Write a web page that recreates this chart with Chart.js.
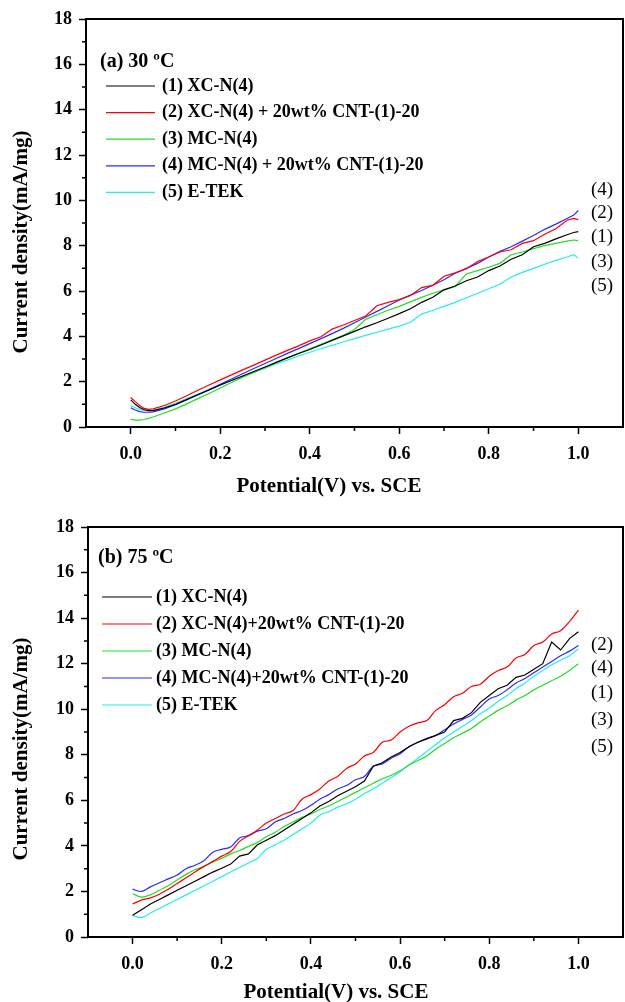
<!DOCTYPE html>
<html>
<head>
<meta charset="utf-8">
<script src="https://cdn.jsdelivr.net/npm/chart.js@4.4.0/dist/chart.umd.min.js"></script>
<style>
html, body { margin: 0; padding: 0; background: #fff; }
#wrap { position: relative; width: 625px; height: 1002px; }
canvas { position: absolute; left: 0; }
</style>
</head>
<body>
<div id="wrap">
  <canvas id="chartA" width="625" height="501" style="top:0"></canvas>
  <canvas id="chartB" width="625" height="501" style="top:501px"></canvas>
</div>
<script>
// (a) 30 C
const potA = [0,0.01,0.02,0.03,0.04,0.05,0.075,0.1,0.125,0.15,0.175,0.2,0.225,0.25,0.275,0.3,0.325,0.35,0.375,0.4,0.425,0.45,0.475,0.5,0.525,0.55,0.575,0.6,0.625,0.65,0.675,0.7,0.725,0.75,0.775,0.8,0.825,0.85,0.875,0.9,0.925,0.95,0.975,0.99,1.0];
const xcA = [1.20,1.00,0.86,0.76,0.72,0.72,0.84,1.00,1.21,1.42,1.63,1.85,2.05,2.25,2.45,2.65,2.85,3.05,3.24,3.42,3.62,3.82,4.02,4.22,4.42,4.60,4.80,5.00,5.22,5.50,5.72,6.05,6.22,6.45,6.62,6.90,7.10,7.40,7.60,7.95,8.10,8.30,8.48,8.58,8.62];
const xcCntA = [1.30,1.12,0.95,0.82,0.78,0.80,0.95,1.15,1.38,1.62,1.85,2.08,2.30,2.52,2.73,2.95,3.17,3.38,3.58,3.80,3.98,4.32,4.50,4.70,4.90,5.35,5.50,5.62,5.80,6.15,6.25,6.65,6.80,6.98,7.30,7.50,7.72,7.82,8.10,8.22,8.50,8.75,9.12,9.20,9.15];
const mcA = [0.35,0.30,0.30,0.33,0.38,0.44,0.62,0.80,1.02,1.25,1.48,1.72,1.96,2.20,2.41,2.62,2.84,3.05,3.25,3.45,3.65,3.85,4.05,4.30,4.75,4.95,5.15,5.32,5.52,5.72,5.90,6.05,6.20,6.75,6.90,7.05,7.22,7.60,7.72,7.87,8.00,8.10,8.20,8.25,8.22];
const mcCntA = [0.85,0.75,0.68,0.65,0.65,0.67,0.80,0.98,1.20,1.42,1.65,1.88,2.12,2.35,2.58,2.80,3.02,3.25,3.46,3.68,3.90,4.12,4.35,4.60,4.85,5.10,5.35,5.60,5.82,6.02,6.25,6.50,6.78,7.00,7.22,7.50,7.75,7.95,8.20,8.45,8.72,8.95,9.20,9.35,9.55];
const etekA = [0.95,0.85,0.78,0.74,0.72,0.74,0.88,1.05,1.25,1.45,1.65,1.85,2.05,2.23,2.42,2.60,2.78,2.95,3.13,3.30,3.45,3.60,3.75,3.90,4.04,4.18,4.32,4.45,4.62,4.98,5.15,5.32,5.50,5.70,5.90,6.10,6.30,6.62,6.82,7.00,7.18,7.35,7.50,7.60,7.45];
const namesA = ['(1) XC-N(4)', '(2) XC-N(4) + 20wt% CNT-(1)-20', '(3) MC-N(4)', '(4) MC-N(4) + 20wt% CNT-(1)-20', '(5) E-TEK'];
const sideA = ['(4)', '(2)', '(1)', '(3)', '(5)'];

// (b) 75 C
const potB = [0,0.02,0.04,0.06,0.08,0.1,0.12,0.14,0.16,0.18,0.2,0.22,0.24,0.26,0.28,0.3,0.32,0.34,0.36,0.38,0.4,0.42,0.44,0.46,0.48,0.5,0.52,0.54,0.56,0.58,0.6,0.62,0.64,0.66,0.68,0.7,0.72,0.74,0.76,0.78,0.8,0.82,0.84,0.86,0.88,0.9,0.92,0.94,0.96,0.98,1.0];
const xcB = [0.95,1.20,1.45,1.65,1.85,2.05,2.25,2.45,2.65,2.85,3.02,3.20,3.55,3.65,4.05,4.25,4.45,4.70,4.95,5.20,5.45,5.75,5.95,6.20,6.40,6.60,6.85,7.50,7.65,7.90,8.10,8.35,8.55,8.70,8.85,9.00,9.50,9.60,9.85,10.30,10.60,10.90,11.05,11.40,11.50,11.75,12.00,12.95,12.60,13.10,13.40];
const xcCntB = [1.45,1.62,1.72,1.88,2.10,2.35,2.60,2.85,3.10,3.32,3.55,3.75,4.20,4.45,4.70,5.00,5.20,5.40,5.55,6.05,6.25,6.50,6.85,7.05,7.40,7.60,7.95,8.10,8.55,8.65,9.00,9.25,9.40,9.50,9.95,10.20,10.55,10.70,11.00,11.10,11.45,11.70,11.85,12.25,12.40,12.80,12.95,13.30,13.45,13.85,14.35];
const mcB = [1.90,1.75,1.85,2.05,2.25,2.50,2.75,2.95,3.10,3.30,3.45,3.65,3.80,3.98,4.15,4.40,4.60,4.85,5.05,5.25,5.40,5.60,5.75,5.95,6.15,6.35,6.55,6.75,6.95,7.10,7.30,7.55,7.75,7.95,8.25,8.50,8.75,8.95,9.15,9.45,9.70,9.95,10.15,10.40,10.60,10.85,11.05,11.25,11.45,11.70,12.00];
const mcCntB = [2.10,2.00,2.20,2.38,2.55,2.72,3.00,3.15,3.35,3.72,3.85,3.95,4.35,4.45,4.65,4.75,5.05,5.20,5.40,5.55,5.78,6.05,6.25,6.50,6.65,6.90,7.05,7.50,7.60,7.85,8.05,8.35,8.55,8.72,8.85,9.10,9.35,9.55,9.75,10.10,10.45,10.60,10.85,11.15,11.35,11.60,11.85,12.10,12.35,12.55,12.80];
const etekB = [0.95,0.85,1.05,1.25,1.45,1.65,1.85,2.05,2.25,2.45,2.65,2.85,3.05,3.25,3.45,3.85,4.05,4.25,4.50,4.75,5.00,5.35,5.50,5.70,5.85,6.05,6.30,6.50,6.75,7.00,7.25,7.55,7.85,8.15,8.45,8.75,9.00,9.25,9.50,9.80,10.05,10.35,10.60,10.90,11.15,11.45,11.70,11.95,12.15,12.35,12.65];
const namesB = ['(1) XC-N(4)', '(2) XC-N(4)+20wt% CNT-(1)-20', '(3) MC-N(4)', '(4) MC-N(4)+20wt% CNT-(1)-20', '(5) E-TEK'];
const sideB = ['(2)', '(4)', '(1)', '(3)', '(5)'];

const FONT = '"Liberation Serif", "Times New Roman", serif';
const colors = ['#000000', '#ff0000', '#22dd22', '#2a2aff', '#22eeee'];

function makeDatasets(pot, series, names, tension) {
  return series.map((ys, i) => ({
    label: names[i],
    data: pot.map((x, j) => ({ x: x, y: ys[j] })),
    borderColor: colors[i],
    borderWidth: 1.2,
    pointRadius: 0,
    tension: i === 0 ? 0 : tension
  }));
}

const decor = {
  id: 'decor',
  afterDraw(chart, args, o) {
    const { ctx, chartArea: a, scales: { x, y } } = chart;
    ctx.save();
    ctx.strokeStyle = '#000';
    ctx.lineWidth = 2;
    ctx.strokeRect(a.left, a.top, a.right - a.left, a.bottom - a.top);
    // minor ticks
    ctx.lineWidth = 1.5;
    ctx.beginPath();
    for (let k = 1; k <= 9; k += 2) {
      const px = x.getPixelForValue(k / 10);
      ctx.moveTo(px, a.bottom); ctx.lineTo(px, a.bottom + 4);
    }
    for (let v = 1; v <= 17; v += 2) {
      const py = y.getPixelForValue(v);
      ctx.moveTo(a.left, py); ctx.lineTo(a.left - 4, py);
    }
    ctx.stroke();

    ctx.fillStyle = '#000';
    ctx.textBaseline = 'middle';
    ctx.textAlign = 'left';
    ctx.font = 'bold 20px ' + FONT;
    ctx.fillText(o.title, o.titleX, o.titleY);

    // legend inside plot
    ctx.font = 'bold 18px ' + FONT;
    chart.data.datasets.forEach((ds, i) => {
      const yy = o.rowY + i * o.rowDy;
      ctx.strokeStyle = ds.borderColor;
      ctx.lineWidth = 1.2;
      ctx.beginPath(); ctx.moveTo(o.lineX1, yy); ctx.lineTo(o.lineX2, yy); ctx.stroke();
      ctx.fillText(ds.label, o.textX, yy);
    });

    // curve labels on the right
    ctx.font = '19px ' + FONT;
    ctx.textAlign = 'center';
    o.side.forEach((s, i) => ctx.fillText(s, o.sideX, o.sideY[i]));

    // axis titles
    ctx.font = 'bold 21px ' + FONT;
    ctx.fillText('Potential(V) vs. SCE', o.xTitleX, o.xTitleY);
    ctx.translate(o.yTitleX, o.yTitleY);
    ctx.rotate(-Math.PI / 2);
    ctx.fillText('Current density(mA/mg)', 0, 0);
    ctx.restore();
  }
};

function makeOptions(padTop, padBottom, yWidth, deco) {
  const tickFont = { family: FONT, size: 18, weight: 'bold' };
  return {
    responsive: false,
    animation: false,
    layout: { padding: { left: 0, right: 2, top: padTop, bottom: padBottom } },
    plugins: { legend: { display: false }, tooltip: { enabled: false }, decor: deco },
    scales: {
      x: {
        type: 'linear', min: -0.1, max: 1.1,
        ticks: {
          stepSize: 0.1, autoSkip: false, maxRotation: 0, padding: 10, color: '#000', font: tickFont,
          callback: v => { const k = Math.round(v * 10); return (k >= 0 && k <= 10 && k % 2 === 0) ? (k / 10).toFixed(1) : ''; }
        },
        grid: {
          drawOnChartArea: false, drawTicks: true, tickLength: 7, tickWidth: 1.5,
          tickColor: c => { const k = Math.round(c.tick.value * 10); return (k >= 0 && k <= 10 && k % 2 === 0) ? '#000' : 'rgba(0,0,0,0)'; }
        },
        border: { display: false },
        afterFit: s => { s.height = 40; s.paddingLeft = 0; s.paddingRight = 0; }
      },
      y: {
        min: 0, max: 18,
        ticks: {
          stepSize: 1, autoSkip: false, padding: 7, color: '#000', font: tickFont,
          callback: v => (v % 2 === 0 ? String(v) : '')
        },
        grid: {
          drawOnChartArea: false, drawTicks: true, tickLength: 7, tickWidth: 1.5,
          tickColor: c => (c.tick.value % 2 === 0 ? '#000' : 'rgba(0,0,0,0)')
        },
        border: { display: false },
        afterFit: s => { s.width = yWidth; s.paddingTop = 0; s.paddingBottom = 0; }
      }
    }
  };
}

new Chart(document.getElementById('chartA'), {
  type: 'line',
  data: { datasets: makeDatasets(potA, [xcA, xcCntA, mcA, mcCntA, etekA], namesA, 0) },
  options: makeOptions(19, 34, 86, {
    title: '(a) 30 ºC', titleX: 100, titleY: 62,
    lineX1: 106, lineX2: 155, textX: 162, rowY: 86, rowDy: 26.6,
    side: sideA, sideX: 602, sideY: [190, 213, 237, 262, 286],
    xTitleX: 329, xTitleY: 487, yTitleX: 22, yTitleY: 242
  }),
  plugins: [decor]
});

new Chart(document.getElementById('chartB'), {
  type: 'line',
  data: { datasets: makeDatasets(potB, [xcB, xcCntB, mcB, mcCntB, etekB], namesB, 0.35) },
  options: makeOptions(26, 25, 88, {
    title: '(b) 75 ºC', titleX: 98, titleY: 57,
    lineX1: 102, lineX2: 152, textX: 156, rowY: 96, rowDy: 27,
    side: sideB, sideX: 602, sideY: [144, 167, 192, 219, 246],
    xTitleX: 336, xTitleY: 492, yTitleX: 22, yTitleY: 248
  }),
  plugins: [decor]
});
</script>
</body>
</html>
